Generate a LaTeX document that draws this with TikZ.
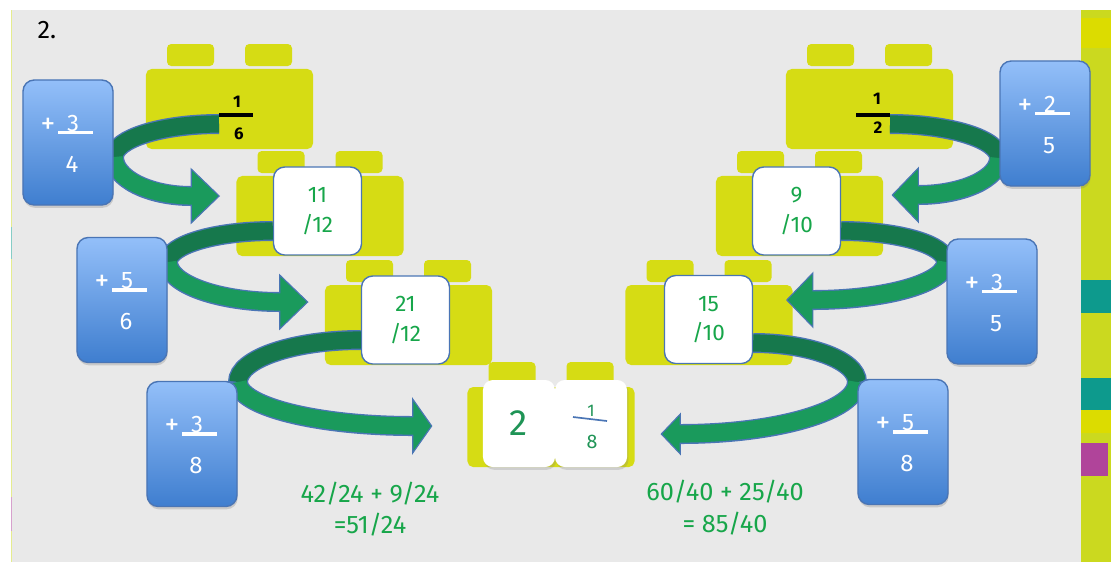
\documentclass[tikz,border=0pt]{standalone}
\usepackage{fontspec}
\setmainfont{Fira Sans}
\usetikzlibrary{calc,positioning,shadows}

\definecolor{paper}{HTML}{E9E9E9}
\definecolor{lego}{HTML}{D6DC14}
\definecolor{stripgreen}{HTML}{CBD91F}
\definecolor{stripyellow}{HTML}{DCDC00}
\definecolor{stripteal}{HTML}{0D9A8D}
\definecolor{stripplum}{HTML}{B0449A}
\definecolor{cardtop}{HTML}{93BFF9}
\definecolor{cardbot}{HTML}{3F7ECF}
\definecolor{cardedge}{HTML}{4A75B5}
\definecolor{darkband}{HTML}{16784C}
\definecolor{lightband}{HTML}{1A9A5C}
\definecolor{sumgreen}{HTML}{17A64A}
\definecolor{mixgreen}{HTML}{1F9456}

\tikzset{
  brick/.pic={
    \node[fill=lego, rounded corners=4pt, minimum width=4.175cm, minimum height=2cm] (-body) at (0,0) {};
    \fill[lego, rounded corners=3pt] (-62.5,-43) rectangle (-15.5,-65);
    \fill[lego, rounded corners=3pt] (15.5,-43) rectangle (62.5,-65);
  },
  bluecard/.style={rounded corners=8pt, draw=cardedge, line width=1pt,
    top color=cardtop, bottom color=cardbot,
    minimum width=2.25cm, minimum height=3.125cm,
    drop shadow={opacity=0.3, shadow xshift=0.5pt, shadow yshift=-2pt}},
  whitecard/.style={rounded corners=8pt, draw=cardedge, line width=1pt, fill=white,
    minimum width=2.2cm, minimum height=2.2cm, align=center, text=sumgreen,
    font=\fontsize{16}{21}\selectfont},
  tile/.style={rounded corners=7pt, fill=white, minimum width=1.8cm, minimum height=2.175cm,
    drop shadow={opacity=0.25, shadow xshift=1pt, shadow yshift=-2pt}},
  cardnum/.style={text=white, font=\fontsize{17}{20}\selectfont, inner sep=0pt},
  cardplus/.style={text=white, font=\fontsize{21}{22}\selectfont, inner sep=0pt},
  cardbar/.style={white, line width=2.5pt},
  fracdigit/.style={font=\bfseries\fontsize{12}{13}\selectfont, inner sep=0pt},
  blackbar/.style={black, line width=2.8pt},
  sumtext/.style={text=sumgreen, align=center, font=\fontsize{18}{22.5}\selectfont},
  bandrim/.style={cardedge, line width=0.5cm},
  banddark/.style={darkband, line width=0.43cm},
  bandlight/.style={lightband, line width=0.43cm},
  bighead/.style={fill=lightband, draw=cardedge, line width=0.8pt, line join=miter}
}

\begin{document}
\begin{tikzpicture}[x=0.025cm, y=-0.025cm]
\useasboundingbox (0,0) rectangle (1111,562);
\fill[white] (0,0) rectangle (1111,562);
\fill[paper] (11,10) rectangle (1081,562);

% thin edge on the left, coloured strip on the right
\draw[stripgreen!50, line width=0.6pt] (11.5,10) -- (11.5,562);
\draw[stripteal!50, line width=0.6pt] (11.5,227) -- (11.5,259);
\draw[stripplum!50, line width=0.6pt] (11.5,497) -- (11.5,531);
\fill[stripgreen] (1081,10) rectangle (1111,562);
\fill[stripyellow] (1081,18) rectangle (1111,48);
\fill[stripteal] (1081,280) rectangle (1111,313);
\fill[stripteal] (1081,378) rectangle (1111,410);
\fill[stripyellow] (1081,410) rectangle (1111,433);
\fill[stripplum] (1081,443) rectangle (1108,476);

\node[font=\fontsize{18}{20}\selectfont] (qnum) at (47,30) {2.};

% lego bricks
\pic (bk1) at (229.5,109) {brick};
\pic (bk2) at (320,216) {brick};
\pic (bk3) at (408.5,325) {brick};
\pic (bk4) at (869.5,109) {brick};
\pic (bk5) at (799.5,216) {brick};
\pic (bk6) at (709,325) {brick};
\pic (bk7) at (551,427) {brick};

% starting fractions
\node[fracdigit] (n1) at (237,102) {1};
\draw[blackbar] (219,115) coordinate (f1l) -- (253,115);
\node[fracdigit] (d1) at (239,134) {6};
\node[fracdigit] (n4) at (877,99) {1};
\draw[blackbar] (856,115) -- (890,115) coordinate (f4r);
\node[fracdigit] (d4) at (878,128) {2};

% running totals
\node[whitecard] (w1) at (317.5,211) {11\\/12};
\node[whitecard] (w2) at (405.5,320) {21\\/12};
\node[whitecard] (w3) at (796.5,211) {9\\/10};
\node[whitecard] (w4) at (708.5,319.5) {15\\/10};

% the answer
\node[tile, text=mixgreen, font=\fontsize{26}{28}\selectfont] (whole) at (519,423.5) {2};
\node[tile] (part) at (591,423.5) {};
\node[text=mixgreen, font=\fontsize{12}{13}\selectfont, inner sep=0pt] (pnum) at (591,411) {1};
\draw[cardedge, line width=1.2pt] (573,417) -- (607,421);
\node[text=mixgreen, font=\fontsize{14}{15}\selectfont, inner sep=0pt] (pden) at (592,442) {8};

\node[sumtext] (lsum) at (370,509) {42/24 + 9/24\\=51/24};
\node[sumtext] (rsum) at (725,507.5) {60/40 + 25/40\\= 85/40};

% curly arrows: start, turn behind the card, head base, head tip
\coordinate (s1) at ($(f1l)+(0,9)$);
\coordinate (t1) at (114,157);
\coordinate (b1) at ($(bk2-body.west)+(-45,-20)$);
\coordinate (h1) at ($(bk2-body.west)+(-17,-20)$);
\coordinate (s2) at ($(w1.west)+(0,20)$);
\coordinate (t2) at (168,262);
\coordinate (b2) at ($(bk3-body.west)+(-45,-23)$);
\coordinate (h2) at ($(bk3-body.west)+(-17,-23)$);
\coordinate (s3) at ($(w2.west)+(0,20)$);
\coordinate (t3) at (238,382);
\coordinate (b3) at ($(whole.west)+(-70,2.5)$);
\coordinate (h3) at ($(whole.west)+(-51,2.5)$);
\coordinate (s4) at ($(f4r)+(0,9)$);
\coordinate (t4) at (999,158);
\coordinate (b4) at ($(bk5-body.east)+(35,-21)$);
\coordinate (h4) at ($(bk5-body.east)+(9,-21)$);
\coordinate (s5) at ($(w3.east)+(0,20)$);
\coordinate (t5) at (946,262);
\coordinate (b5) at ($(bk6-body.east)+(20,-25)$);
\coordinate (h5) at ($(bk6-body.east)+(-6,-25)$);
\coordinate (s6) at ($(w4.east)+(0,23.5)$);
\coordinate (t6) at (857,382);
\coordinate (b6) at ($(part.east)+(53,10.5)$);
\coordinate (h6) at ($(part.east)+(34,10.5)$);

% each band is two quarter ellipses meeting at the turn
\foreach \i/\w in {1/27, 2/27, 3/27, 4/27, 5/27, 6/20}{
  \draw[bandrim] (s\i) .. controls ($(s\i)!0.55!(t\i|-s\i)$) and ($(t\i)!0.55!(t\i|-s\i)$) .. (t\i)
                      .. controls ($(t\i)!0.55!(t\i|-b\i)$) and ($(b\i)!0.55!(t\i|-b\i)$) .. (b\i);
  \filldraw[bighead] ($(b\i)+(0,-\w)$) -- (h\i) -- ($(b\i)+(0,\w)$) -- cycle;
  \draw[banddark] (s\i) .. controls ($(s\i)!0.55!(t\i|-s\i)$) and ($(t\i)!0.55!(t\i|-s\i)$) .. (t\i);
  \draw[bandlight, shorten >=-2pt] (t\i) .. controls ($(t\i)!0.55!(t\i|-b\i)$) and ($(b\i)!0.55!(t\i|-b\i)$) .. (b\i);
}

% fractions being added
\foreach \n/\x/\y/\a/\b in {c1/68/142.5/3/4, c2/122/300/5/6, c3/192/444/3/8,
                            c4/1045/123.5/2/5, c5/992/301.5/3/5, c6/903/442/5/8}{
  \node[bluecard] (\n) at (\x,\y) {};
  \node[cardplus] at ($(\n)+(-20,-17)$) {+};
  \node[cardnum] at ($(\n)+(5,-19)$) {\a};
  \draw[cardbar] ($(\n)+(-10,-10)$) -- ($(\n)+(25,-10)$);
  \node[cardnum] at ($(\n)+(4,22)$) {\b};
}
\end{tikzpicture}
\end{document}
